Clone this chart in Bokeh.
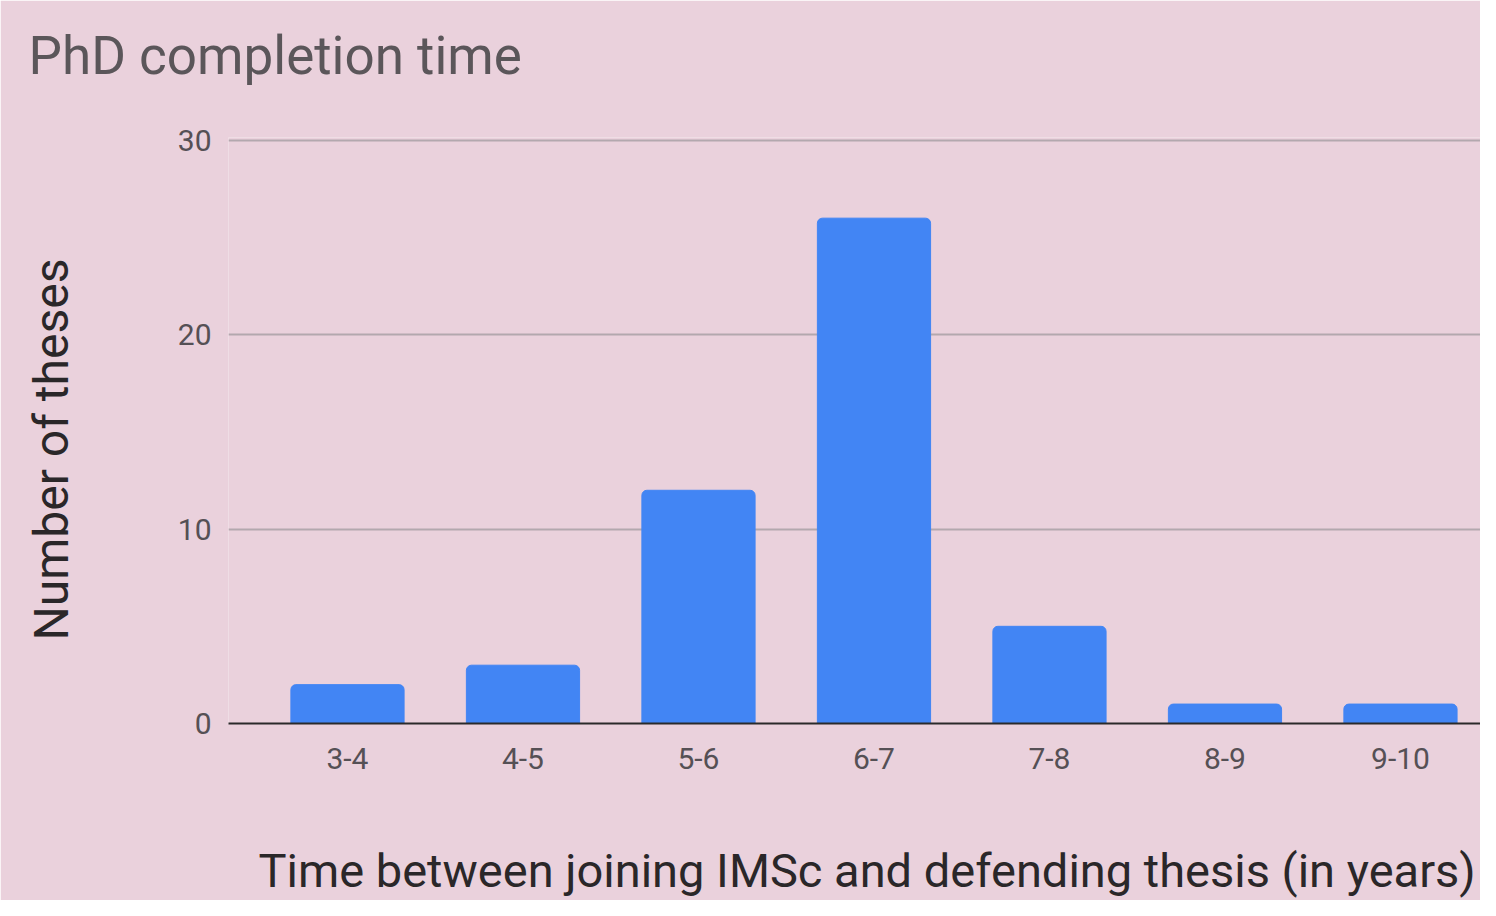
from bokeh.plotting import figure
from bokeh.models import Range1d, FixedTicker, ColumnDataSource, Title
from bokeh.embed import file_html
from bokeh.resources import INLINE

categories = ["3-4", "4-5", "5-6", "6-7", "7-8", "8-9", "9-10"]
counts = [2, 3, 12, 26, 5, 1, 1]
y_ticks = [0, 10, 20, 30]
title_text = "PhD completion time"
x_title_text = "Time between joining IMSc and defending thesis (in years)"
y_title_text = "Number of theses"

xs = list(range(len(categories)))
src = ColumnDataSource(dict(x=xs, top=counts))

BG = "#ead1dc"
p = figure(width=1480, height=900, output_backend="svg", toolbar_location=None,
           x_range=Range1d(-0.678, 6.456), y_range=Range1d(0, 30.15),
           min_border_left=228, min_border_right=0, min_border_top=137,
           min_border_bottom=177)
p.background_fill_color = BG
p.border_fill_color = BG
p.outline_line_color = None

p.vbar(x="x", top="top", width=0.645, source=src, color="#4285f4",
       border_radius=(5, 5, 0, 0))

p.xaxis.ticker = FixedTicker(ticks=xs)
p.xaxis.major_label_overrides = {i: c for i, c in enumerate(categories)}
p.yaxis.ticker = FixedTicker(ticks=y_ticks)
for ax in (p.xaxis, p.yaxis):
    ax.major_tick_line_color = None
    ax.minor_tick_line_color = None
    ax.major_label_text_font = "Roboto"
    ax.major_label_text_font_size = "30px"
    ax.major_label_text_color = "#555055"
p.xaxis.axis_line_color = "#2a2a2a"
p.xaxis.axis_line_width = 2
p.yaxis.axis_line_color = None
p.xaxis.major_label_standoff = 18
p.yaxis.major_label_standoff = 11


def spacer(gap):
    return Title(text=" ", text_font_size="1px", standoff=gap, text_color=BG)


def heading(text, size, color, **kw):
    return Title(text=text, text_font="Roboto", text_font_size=size,
                 text_font_style="normal", text_color=color, standoff=0,
                 vertical_align="bottom", **kw)


# main title (above the frame)
p.add_layout(spacer(48), "above")
p.add_layout(heading(title_text, "53px", "#5b565a", align="left", offset=-200), "above")

# x axis title (below the axis)
p.add_layout(spacer(66), "below")
p.add_layout(heading(x_title_text, "47px", "#2a2729", align="left", offset=30), "below")

# y axis title (left of the axis)
p.add_layout(spacer(92), "left")
p.add_layout(heading(y_title_text, "48px", "#2a2729", align="left", offset=83), "left")

p.xgrid.grid_line_color = None
p.ygrid.grid_line_color = "#b3a8ae"
p.ygrid.grid_line_width = 2

open("out.html", "w").write(file_html(p, INLINE))
